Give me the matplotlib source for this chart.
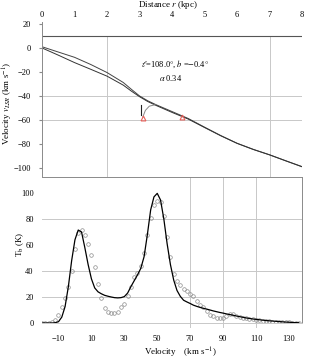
import numpy as np
import matplotlib
matplotlib.use('Agg')
import matplotlib.pyplot as plt

plt.rcParams['font.family'] = ['Liberation Serif', 'DejaVu Serif']
plt.rcParams['mathtext.fontset'] = 'stix'

# --- top panel: rotation curve, velocity vs distance ---
dist = [0, 0.5, 1, 1.5, 2, 2.5, 2.75, 3, 3.25, 3.5, 4, 4.5, 5, 5.5, 6, 6.5, 7, 7.5, 8]
vel_a = [1, -3.4, -7.8, -13.8, -20.5, -28.8, -34.5, -40.0, -44.0, -47.2, -53.0, -58.8,
         -66.0, -73.0, -79.4, -84.5, -89.0, -94.0, -98.9]
vel_b = [0, -6.0, -12.2, -17.8, -23.5, -31.0, -36.0, -40.6, -44.6, -47.8, -53.7, -59.3,
         -66.3, -73.2, -79.5, -84.6, -89.1, -94.1, -99.0]
tri_r = [3.1, 4.3]
tri_v = [-58.5, -57.5]
arc_r = [3.1, 3.18, 3.3, 3.48]
arc_v = [-57.5, -52.0, -48.5, -47.3]
bar_r = [3.05, 3.05]
bar_v = [-47.5, -55.8]

# --- bottom panel: HI spectrum ---
velocity = list(range(-20, 138, 2))
t_obs = [0, 0.2, 0.3, 0.8, 2.3, 6.5, 12, 19, 28, 40,
         57, 69, 71.5, 68, 61, 52, 43, 30, 19, 11.5,
         8.5, 7.5, 7.6, 8.2, 12, 14.5, 20.5, 28, 35, 38.5,
         44, 54, 68, 81, 91, 94, 93, 82, 66, 51,
         38, 32, 29, 26.5, 24.5, 22.5, 20.5, 17, 14, 12,
         9, 6.5, 5, 3.8, 3.5, 4, 5.2, 7, 6.8, 5.5,
         4.8, 4.2, 3.6, 3.2, 2.7, 2.3, 2.0, 1.8, 1.5, 1.3,
         1.1, 1.0, 0.8, 0.6, 0.5, 0.4, 0.3, 0.2, 0.1]
t_fit = [0, 0, 0, 0, 0.2, 1, 4.5, 12.6, 28, 48,
         64, 71.5, 70, 58, 45, 34, 27, 24, 22.5, 21.3,
         20.6, 20, 19.5, 19.3, 19.5, 20.3, 23, 28, 32.5, 37,
         42, 51, 68, 87, 97, 99.7, 94.6, 80, 61, 45,
         33, 25, 20.5, 17.5, 16.2, 15, 13.7, 12.8, 12, 11.3,
         10.7, 10, 9.3, 8.7, 8.1, 7.6, 7, 6.5, 6, 5.4,
         4.9, 4.4, 3.9, 3.5, 3.1, 2.8, 2.5, 2.2, 1.9, 1.7,
         1.5, 1.3, 1.1, 0.9, 0.7, 0.6, 0.4, 0.3, 0.2]

grid_c = '#c8c8c8'
spine_c = '#8a8a8a'

fig = plt.figure(figsize=(3.16, 3.59), dpi=100)

# top panel
ax1 = fig.add_axes((0.133, 0.507, 0.823, 0.433))
ax1.set_xlim(0, 8)
ax1.set_ylim(-107.5, 22)
for y in (-40, -60):
    ax1.axhline(y, color=grid_c, lw=0.7, zorder=0)
for x in (2, 7):
    ax1.plot([x, x], [10, -107.5], color=grid_c, lw=0.7, zorder=0)
ax1.axhline(10, color='#555555', lw=0.8)
ax1.plot(dist, vel_a, color='#444444', lw=0.7)
ax1.plot(dist, vel_b, color='#333333', lw=0.7)
ax1.plot(arc_r, arc_v, color='#888888', lw=0.7)
ax1.plot(bar_r, bar_v, color='#222222', lw=0.8)
ax1.plot(tri_r, tri_v, ls='none', marker='^', ms=3.5, mfc='none',
         mec='#e8605a', mew=0.8)
ax1.text(4.1, -14, r'$\ell$=108.0$\degree$, $b$ =$-$0.4$\degree$',
         ha='center', va='center', fontsize=6)
ax1.text(3.97, -25, r'$\alpha$ 0.34', ha='center', va='center', fontsize=6)
ax1.xaxis.tick_top()
ax1.set_xticks(range(0, 9))
ax1.set_yticks(range(-100, 21, 20))
ax1.tick_params(labelsize=6, length=0, pad=2)
ax1.tick_params(axis='y', pad=6, length=2, color=spine_c)
for s in ('top', 'right', 'bottom'):
    ax1.spines[s].set_visible(False)
ax1.spines['left'].set_color(spine_c)
ax1.spines['left'].set_linewidth(0.7)

# bottom panel
ax2 = fig.add_axes((0.133, 0.1003, 0.823, 0.4067))
ax2.set_xlim(-20, 138)
ax2.set_ylim(0, 112.3)
for y in (20, 40, 80):
    ax2.axhline(y, color=grid_c, lw=0.7, zorder=0)
for x in (70, 90, 110):
    ax2.axvline(x, ymin=-0.025, color=grid_c, lw=0.7, zorder=0, clip_on=False)
ax2.plot(velocity, t_obs, ls='none', marker='o', ms=2.6, mfc='none',
         mec='#8c8c8c', mew=0.5)
ax2.plot(velocity, t_fit, color='black', lw=0.9)
ax2.set_xticks(range(-10, 131, 20))
ax2.set_yticks(range(0, 101, 20))
ax2.tick_params(labelsize=6, length=0)
ax2.tick_params(axis='x', pad=9)
ax2.tick_params(axis='y', pad=6)
ax2.spines['left'].set_visible(False)
ax2.spines['bottom'].set_color(grid_c)
for s in ('top', 'right'):
    ax2.spines[s].set_color(spine_c)
    ax2.spines[s].set_linewidth(0.7)
ax2.spines['bottom'].set_linewidth(0.7)

# axis titles
fig.text(0.532, 0.986, r'Distance $r$ (kpc)', ha='center', va='center', fontsize=6.5)
fig.text(0.025, 0.713, r'Velocity $v_{LSR}$ (km s$^{-1}$)', rotation=90,
         ha='center', va='center', fontsize=6.5)
fig.text(0.063, 0.32, r'T$_{\rm b}$ (K)', rotation=90,
         ha='center', va='center', fontsize=6.5)
fig.text(0.57, 0.018, r'Velocity    (km s$^{-1}$)', ha='center', va='center',
         fontsize=6.5)

fig.savefig('out.png', dpi=100)
